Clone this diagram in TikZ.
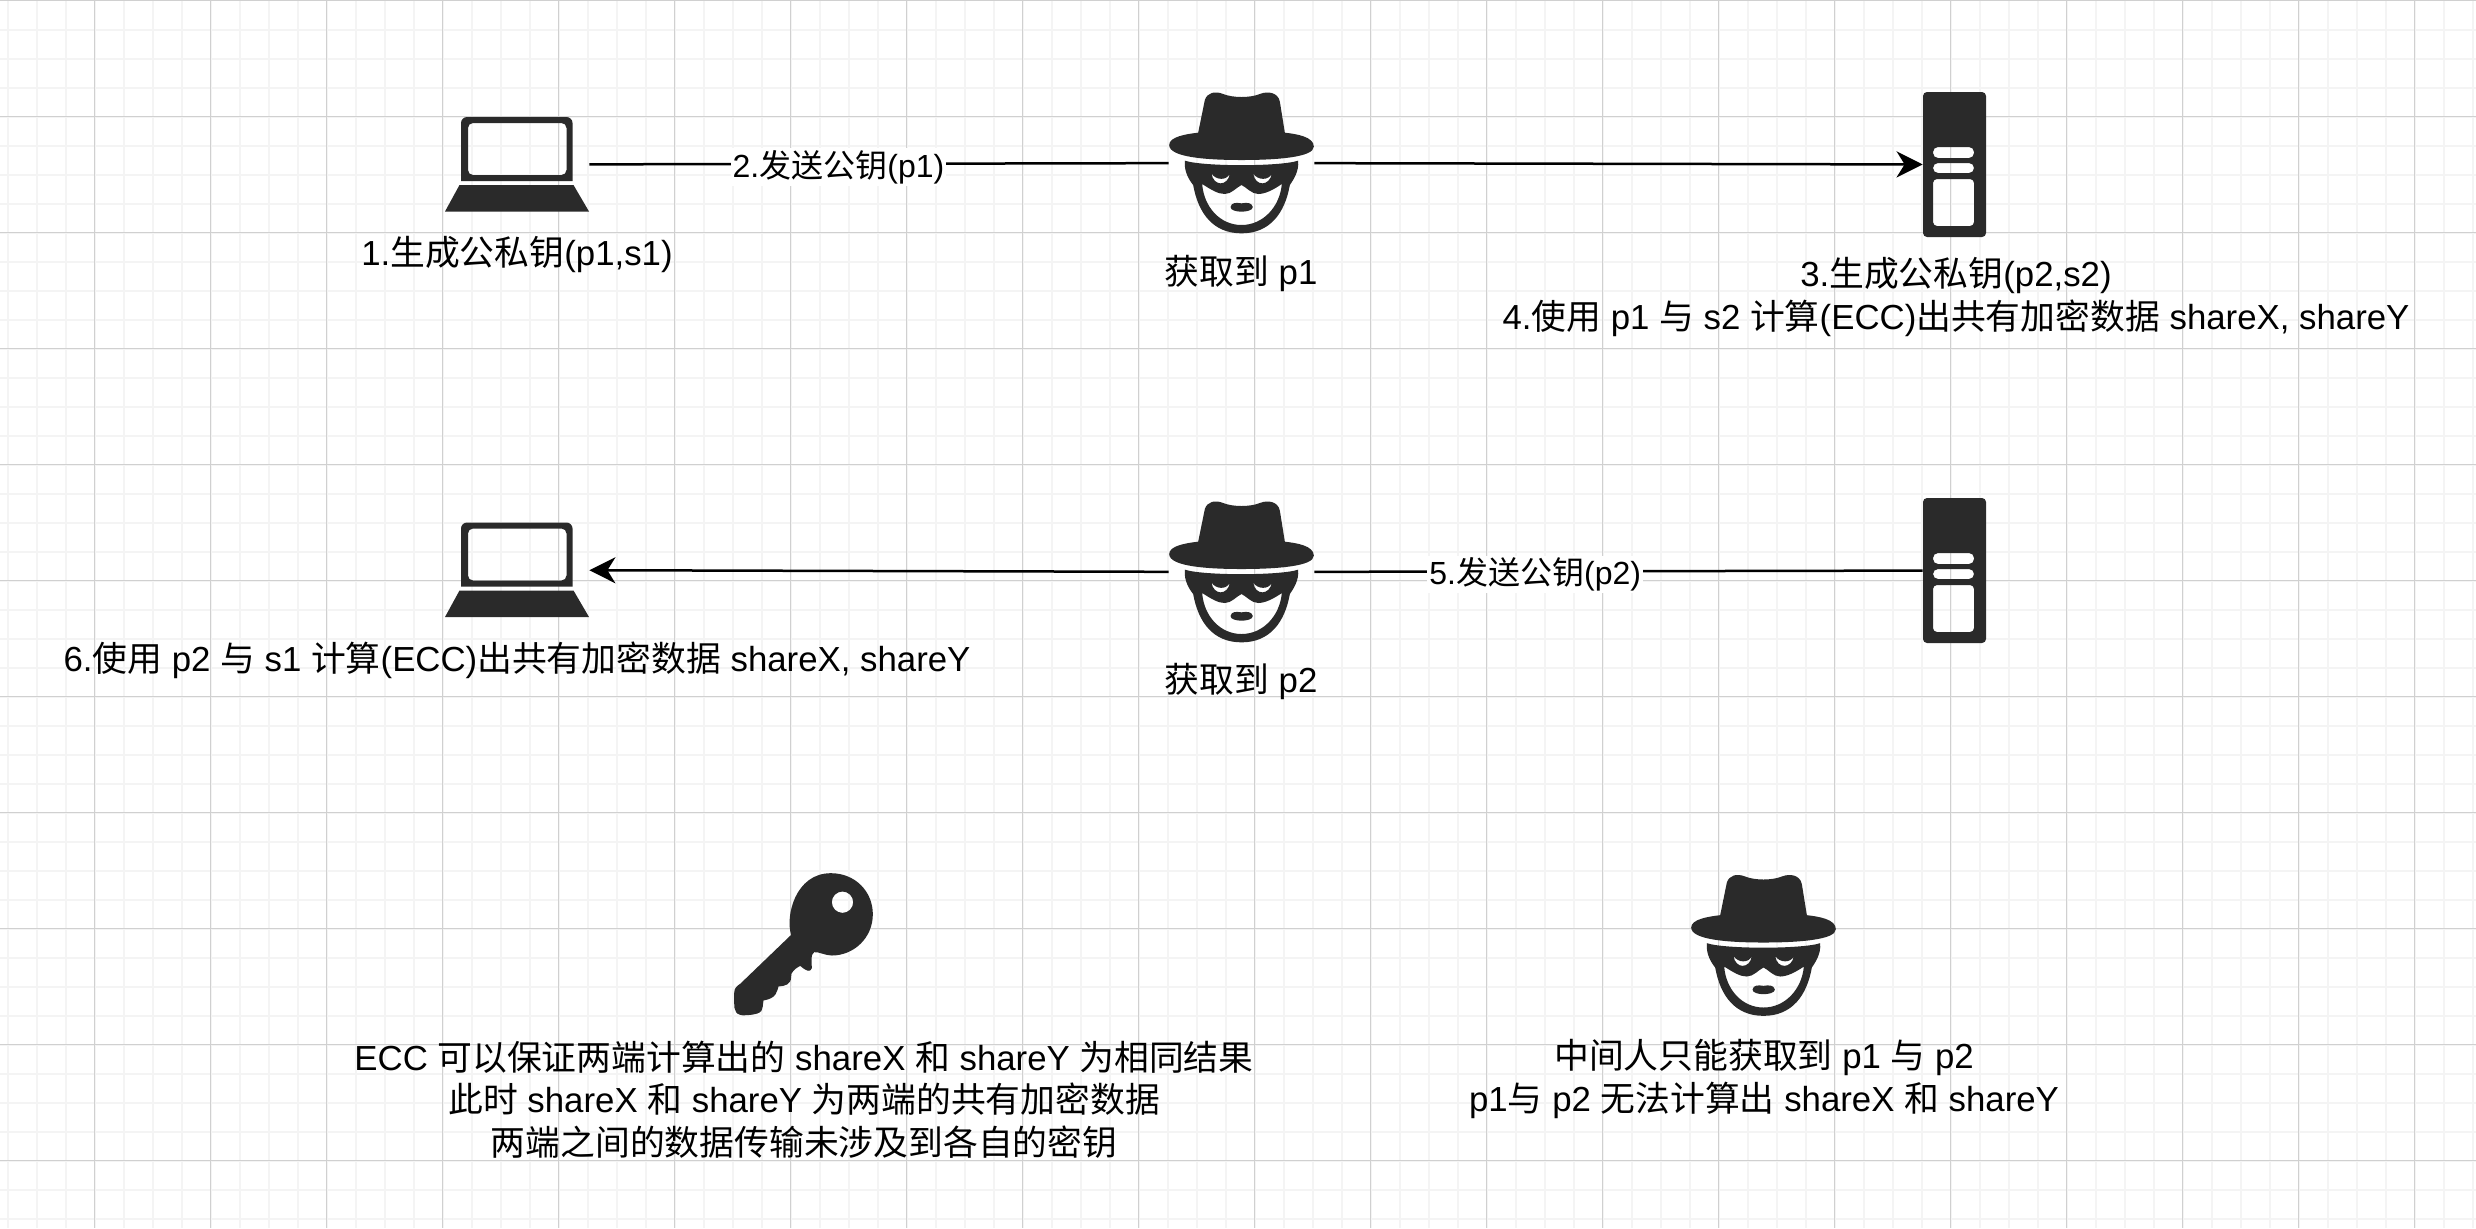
\documentclass[tikz,border=0pt]{standalone}
\usepackage{fontspec}
\usetikzlibrary{arrows.meta}
\setmainfont{Liberation Sans}
\newfontfamily\cjk{Noto Sans CJK SC}
\newcommand{\zh}[1]{{\cjk #1}}
\definecolor{icondark}{HTML}{2A2A2A}
\definecolor{gridminor}{HTML}{F4F4F4}
\definecolor{gridmajor}{HTML}{D0D0D0}
\tikzset{
    labeltext/.style={font=\fontsize{17.4pt}{21.3pt}\selectfont, align=center, inner sep=0pt},
    edgelabel/.style={font=\fontsize{16pt}{19pt}\selectfont, align=center, fill=white, inner xsep=1pt, inner ysep=1pt, yshift=-1.5pt},
    laptopbox/.style={inner sep=0pt, minimum width=72pt, minimum height=47.5pt},
    hackerbox/.style={inner sep=0pt, minimum width=72.5pt, minimum height=70pt},
    serverbox/.style={inner sep=0pt, minimum width=31.5pt, minimum height=72.5pt},
    keybox/.style={inner sep=0pt, minimum width=69.5pt, minimum height=71.5pt},
    link/.style={draw=black, line width=1.25pt},
    tiplink/.style={link, -{Stealth[length=13pt, width=13pt, inset=4pt]}},
    laptop/.pic={
        \fill[icondark, even odd rule] (-56,16.5) [rounded corners=3pt] -- (-56,-47.5) -- (55.5,-47.5) [sharp corners] -- (55.5,16.5) -- cycle
            [rounded corners=2.5pt] (-49,-41.5) rectangle (49.5,10.5);
        \fill[icondark] (-57.5,20.5) -- (56.5,20.5) -- (72,47) -- (-72,47) -- cycle;
    },
    hacker/.pic={
        \begin{scope}[scale=1/3, shift={(-335,-279)}]
        \fill[icondark] (225,90) .. controls (232,68) and (255,62) .. (280,72)
            .. controls (310,84) and (360,84) .. (390,72)
            .. controls (415,62) and (445,68) .. (450,95)
            -- (465,188) .. controls (500,192) and (552,200) .. (552,230)
            .. controls (552,262) and (440,270) .. (335,270)
            .. controls (230,270) and (118,262) .. (118,225)
            .. controls (118,200) and (170,192) .. (205,188) -- cycle;
        \fill[icondark, even odd rule] (165,272) .. controls (220,290) and (450,290) .. (505,272)
            .. controls (508,305) and (490,330) .. (480,345)
            .. controls (465,430) and (420,490) .. (335,490)
            .. controls (250,490) and (205,430) .. (190,345)
            .. controls (178,330) and (162,305) .. (165,272) -- cycle
            (217,342) .. controls (245,360) and (265,372) .. (285,372)
            .. controls (305,372) and (320,352) .. (335,345)
            .. controls (350,352) and (365,372) .. (385,372)
            .. controls (405,372) and (430,360) .. (456,342)
            .. controls (450,410) and (400,465) .. (335,465)
            .. controls (270,465) and (222,410) .. (217,342) -- cycle
            (245,310) .. controls (250,350) and (295,350) .. (300,310)
            .. controls (292,332) and (258,332) .. (245,310) -- cycle
            (370,310) .. controls (375,350) and (420,350) .. (426,310)
            .. controls (418,332) and (383,332) .. (370,310) -- cycle;
        \fill[icondark] (302,411) .. controls (305,396) and (320,398) .. (335,400)
            .. controls (350,398) and (365,396) .. (369,411)
            .. controls (369,421) and (350,425) .. (335,425)
            .. controls (320,425) and (302,421) .. (302,411) -- cycle;
        \end{scope}
    },
    server/.pic={
        \fill[icondark, even odd rule] [rounded corners=2pt] (-31.5,-72.5) rectangle (31.5,72.5)
            [rounded corners=2.5pt] (-21.5,-17.5) rectangle (19.5,-6.5)
            (-21.5,-1.5) rectangle (19.5,8.5)
            [rounded corners=2pt] (-21.5,14.5) rectangle (19.5,61.5);
    },
    keyicon/.pic={
        \begin{scope}[scale=1/3, shift={(-280,-254)}]
        \fill[icondark, even odd rule] (243,225) .. controls (225,170) and (255,40) .. (362,40)
            .. controls (435,40) and (488,95) .. (488,163)
            .. controls (488,235) and (430,287) .. (365,287)
            .. controls (345,287) and (325,275) .. (312,277)
            .. controls (300,285) and (305,305) .. (305,325)
            .. controls (300,338) and (290,335) .. (270,318)
            .. controls (255,325) and (240,340) .. (243,350)
            .. controls (243,375) and (225,378) .. (205,380)
            .. controls (200,395) and (200,415) .. (160,422)
            .. controls (155,450) and (165,462) .. (110,466)
            .. controls (75,470) and (72,450) .. (72,430)
            -- (72,400) .. controls (72,385) and (80,378) .. (90,372) -- cycle
            (397,127) circle (32);
        \end{scope}
    }
}
\begin{document}
\begin{tikzpicture}[x=0.5pt, y=-0.5pt]
    \useasboundingbox (0,0) rectangle (2476,1228);
    \fill[white] (0,0) rectangle (2476,1228);
    % grid
    \foreach \gx in {7.5,36.5,...,2476} {
        \draw[gridminor, line width=1pt] (\gx,0) -- (\gx,1228);
    }
    \foreach \gy in {29.5,58.5,...,1228} {
        \draw[gridminor, line width=1pt] (0,\gy) -- (2476,\gy);
    }
    \foreach \gx in {94.5,210.5,...,2476} {
        \draw[gridmajor, line width=0.5pt] (\gx,0) -- (\gx,1228);
    }
    \foreach \gy in {0.5,116.5,...,1228} {
        \draw[gridmajor, line width=0.5pt] (0,\gy) -- (2476,\gy);
    }

    % top row
    \node[laptopbox] (laptopA) at (517,164.5) {};
    \node[hackerbox] (hackerA) at (1241.5,163) {};
    \node[serverbox] (serverA) at (1954.5,164.5) {};
    \pic at (laptopA) {laptop};
    \pic at (hackerA) {hacker};
    \pic at (serverA) {server};
    \node[labeltext] (stepone) at (517,254) {1.\zh{生成公私钥}(p1,s1)};
    \node[labeltext] (gotone) at (1241,273.5) {\zh{获取到} p1};
    \node[labeltext] (stepthree) at (1956,297) {3.\zh{生成公私钥}(p2,s2)\\4.\zh{使用} p1 \zh{与} s2 \zh{计算}(ECC)\zh{出共有加密数据} shareX, shareY};
    \draw[link] (laptopA) -- node[edgelabel, pos=0.43] (sendone) {2.\zh{发送公钥}(p1)} (hackerA);
    \draw[tiplink] (hackerA) -- (serverA);

    % middle row
    \node[laptopbox] (laptopB) at (517,570) {};
    \node[hackerbox] (hackerB) at (1241.5,572) {};
    \node[serverbox] (serverB) at (1954.5,570.5) {};
    \pic at (laptopB) {laptop};
    \pic at (hackerB) {hacker};
    \pic at (serverB) {server};
    \node[labeltext] (stepsix) at (517,660) {6.\zh{使用} p2 \zh{与} s1 \zh{计算}(ECC)\zh{出共有加密数据} shareX, shareY};
    \node[labeltext] (gottwo) at (1241,681) {\zh{获取到} p2};
    \draw[link] (serverB) -- node[edgelabel, pos=0.637] (sendtwo) {5.\zh{发送公钥}(p2)} (hackerB);
    \draw[tiplink] (hackerB) -- (laptopB);

    % bottom row
    \node[keybox] (keyC) at (803.5,944.5) {};
    \node[hackerbox] (hackerC) at (1763.5,945.5) {};
    \pic at (keyC) {keyicon};
    \pic at (hackerC) {hacker};
    \node[labeltext] (notekey) at (804,1099.5) {ECC \zh{可以保证两端计算出的} shareX \zh{和} shareY \zh{为相同结果}\\\zh{此时} shareX \zh{和} shareY \zh{为两端的共有加密数据}\\\zh{两端之间的数据传输未涉及到各自的密钥}};
    \node[labeltext] (notehacker) at (1764,1079) {\zh{中间人只能获取到} p1 \zh{与} p2\\p1\zh{与} p2 \zh{无法计算出} shareX \zh{和} shareY};
\end{tikzpicture}
\end{document}
